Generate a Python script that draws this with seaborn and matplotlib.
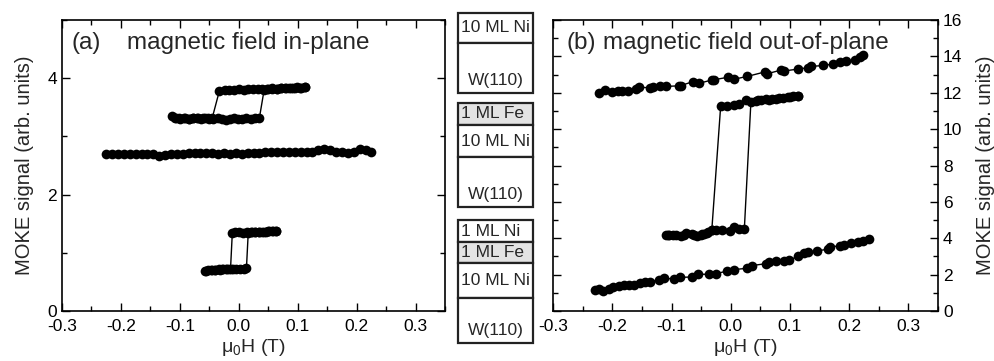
import matplotlib
matplotlib.use("Agg")
import matplotlib.pyplot as plt
from matplotlib.patches import Rectangle
from matplotlib.ticker import MultipleLocator, FormatStrFormatter
import seaborn as sns

# --- panel (a): field in-plane ---
# 10 ML Ni / W(110) loop, sweep up then sweep down
a_top_up_x = [-0.113, -0.106, -0.099, -0.092, -0.085, -0.078, -0.071, -0.064, -0.057, -0.050,
              -0.043, -0.036, -0.029, -0.022, -0.015, -0.008, -0.001, 0.006, 0.013, 0.020,
              0.027, 0.035, 0.043, 0.050, 0.057, 0.064, 0.071, 0.078, 0.085, 0.092,
              0.099, 0.106, 0.112]
a_top_up_y = [3.35, 3.31, 3.30, 3.31, 3.30, 3.31, 3.32, 3.30, 3.31, 3.30,
              3.30, 3.31, 3.30, 3.29, 3.30, 3.31, 3.30, 3.30, 3.31, 3.30,
              3.31, 3.32, 3.80, 3.82, 3.83, 3.82, 3.84, 3.83, 3.84, 3.84,
              3.85, 3.84, 3.85]
a_top_down_x = [0.112, 0.104, 0.096, 0.088, 0.080, 0.072, 0.064, 0.056, 0.048, 0.040,
                0.032, 0.024, 0.016, 0.008, 0.000, -0.008, -0.016, -0.024, -0.033,
                -0.045, -0.053, -0.061, -0.069, -0.077, -0.085, -0.093, -0.101, -0.109]
a_top_down_y = [3.85, 3.84, 3.84, 3.83, 3.83, 3.83, 3.82, 3.82, 3.82, 3.81,
                3.81, 3.82, 3.81, 3.80, 3.81, 3.80, 3.80, 3.79, 3.78,
                3.32, 3.31, 3.31, 3.32, 3.31, 3.30, 3.31, 3.31, 3.32]

# 1 ML Fe / 10 ML Ni: no loop
a_mid_x = [-0.225, -0.215, -0.205, -0.195, -0.185, -0.175, -0.165, -0.155, -0.145, -0.135,
           -0.125, -0.115, -0.105, -0.095, -0.085, -0.075, -0.065, -0.055, -0.045, -0.035,
           -0.025, -0.015, -0.005, 0.005, 0.015, 0.025, 0.035, 0.045, 0.055, 0.065,
           0.075, 0.085, 0.095, 0.105, 0.115, 0.125, 0.135, 0.145, 0.155, 0.165,
           0.175, 0.185, 0.195, 0.205, 0.215, 0.225]
a_mid_y = [2.70, 2.70, 2.69, 2.70, 2.70, 2.69, 2.69, 2.70, 2.69, 2.66,
           2.68, 2.69, 2.70, 2.70, 2.71, 2.71, 2.71, 2.72, 2.71, 2.70,
           2.71, 2.70, 2.71, 2.70, 2.71, 2.72, 2.72, 2.74, 2.74, 2.74,
           2.74, 2.73, 2.73, 2.74, 2.73, 2.74, 2.76, 2.79, 2.76, 2.73,
           2.74, 2.71, 2.74, 2.78, 2.76, 2.74]

# 1 ML Ni / 1 ML Fe / 10 ML Ni loop
a_bot_up_x = [-0.058, -0.052, -0.046, -0.040, -0.034, -0.028, -0.022, -0.016, -0.010, -0.004,
              0.002, 0.008, 0.013, 0.016, 0.022, 0.028, 0.034, 0.040, 0.046, 0.052,
              0.058, 0.063]
a_bot_up_y = [0.69, 0.70, 0.70, 0.71, 0.72, 0.72, 0.72, 0.72, 0.73, 0.72,
              0.72, 0.73, 0.74, 1.34, 1.35, 1.35, 1.36, 1.36, 1.36, 1.37,
              1.37, 1.38]
a_bot_down_x = [0.063, 0.056, 0.049, 0.042, 0.035, 0.028, 0.021, 0.014, 0.007, 0.000,
                -0.006, -0.011, -0.014, -0.020, -0.026, -0.032, -0.040, -0.048, -0.056]
a_bot_down_y = [1.38, 1.37, 1.37, 1.36, 1.36, 1.35, 1.35, 1.35, 1.34, 1.35,
                1.35, 1.34, 0.73, 0.72, 0.72, 0.71, 0.71, 0.70, 0.69]

# --- panel (b): field out-of-plane ---
b_top_x = [-0.222, -0.212, -0.200, -0.191, -0.183, -0.174, -0.160, -0.155, -0.136, -0.132,
           -0.119, -0.110, -0.088, -0.084, -0.063, -0.054, -0.032, -0.028, -0.005, 0.006,
           0.028, 0.058, 0.062, 0.085, 0.090, 0.113, 0.130, 0.136, 0.156, 0.173,
           0.184, 0.195, 0.209, 0.218, 0.223]
b_top_y = [11.98, 12.15, 12.02, 12.08, 12.08, 12.10, 12.22, 12.30, 12.28, 12.32,
           12.35, 12.35, 12.38, 12.40, 12.62, 12.52, 12.70, 12.72, 12.85, 12.75,
           12.90, 13.15, 13.05, 13.25, 13.20, 13.30, 13.38, 13.45, 13.50, 13.58,
           13.68, 13.72, 13.82, 13.95, 14.05]

b_mid_up_x = [-0.110, -0.104, -0.098, -0.084, -0.075, -0.066, -0.057, -0.051, -0.045, -0.039,
              -0.032, -0.025, -0.015, -0.001, 0.006, 0.014, 0.023, 0.034, 0.042, 0.051,
              0.059, 0.065, 0.076, 0.088, 0.096, 0.105, 0.113]
b_mid_up_y = [4.17, 4.18, 4.17, 4.15, 4.28, 4.22, 4.15, 4.20, 4.25, 4.35,
              4.44, 4.45, 4.45, 4.40, 4.60, 4.50, 4.53, 11.48, 11.55, 11.62,
              11.65, 11.62, 11.68, 11.72, 11.75, 11.80, 11.83]
b_mid_down_x = [0.113, 0.100, 0.082, 0.070, 0.046, 0.025, 0.014, 0.006, -0.006, -0.017,
                -0.032, -0.040, -0.048, -0.062, -0.079, -0.092, -0.106]
b_mid_down_y = [11.83, 11.78, 11.70, 11.66, 11.58, 11.60, 11.40, 11.35, 11.30, 11.27,
                4.44, 4.30, 4.22, 4.18, 4.20, 4.16, 4.17]

b_bot_x = [-0.229, -0.223, -0.216, -0.206, -0.198, -0.189, -0.180, -0.172, -0.164, -0.153,
           -0.144, -0.137, -0.121, -0.113, -0.096, -0.085, -0.065, -0.056, -0.037, -0.025,
           -0.006, 0.006, 0.028, 0.036, 0.059, 0.064, 0.076, 0.090, 0.099, 0.113,
           0.124, 0.130, 0.145, 0.164, 0.167, 0.184, 0.192, 0.203, 0.215, 0.223,
           0.233]
b_bot_y = [1.14, 1.20, 1.10, 1.20, 1.30, 1.35, 1.42, 1.42, 1.45, 1.55,
           1.60, 1.62, 1.70, 1.82, 1.75, 1.85, 1.87, 2.02, 2.02, 2.05,
           2.20, 2.28, 2.35, 2.50, 2.60, 2.70, 2.75, 2.75, 2.80, 3.00,
           3.20, 3.25, 3.30, 3.40, 3.50, 3.60, 3.65, 3.72, 3.80, 3.85,
           3.94]

# layer stacks shown between the panels (top layer first)
stack_1 = ["10 ML Ni", "W(110)"]
stack_2 = ["1 ML Fe", "10 ML Ni", "W(110)"]
stack_3 = ["1 ML Ni", "1 ML Fe", "10 ML Ni", "W(110)"]

sns.set_style("ticks")
plt.rcParams["font.family"] = ["Liberation Sans", "DejaVu Sans"]
plt.rcParams["mathtext.default"] = "regular"
plt.rcParams["axes.unicode_minus"] = False

fig = plt.figure(figsize=(9.95, 3.61), dpi=100)
ax1 = fig.add_axes([0.0623, 0.1385, 0.385, 0.806])
ax2 = fig.add_axes([0.5558, 0.1385, 0.387, 0.806])

line_kw = dict(sort=False, estimator=None, color="black", marker="o", markersize=7,
               markeredgewidth=0, linewidth=1)

for xs, ys in [(a_top_up_x, a_top_up_y), (a_top_down_x, a_top_down_y),
               (a_mid_x, a_mid_y),
               (a_bot_up_x, a_bot_up_y), (a_bot_down_x, a_bot_down_y)]:
    sns.lineplot(x=xs, y=ys, ax=ax1, **line_kw)

for xs, ys in [(b_top_x, b_top_y),
               (b_mid_up_x, b_mid_up_y), (b_mid_down_x, b_mid_down_y),
               (b_bot_x, b_bot_y)]:
    sns.lineplot(x=xs, y=ys, ax=ax2, **line_kw)

for ax in (ax1, ax2):
    ax.set_xlim(-0.3, 0.35)
    ax.xaxis.set_major_locator(MultipleLocator(0.1))
    ax.xaxis.set_minor_locator(MultipleLocator(0.05))
    ax.xaxis.set_major_formatter(FormatStrFormatter("%.1f"))
    ax.tick_params(which="both", direction="in", top=True, right=True, left=True,
                   labelsize=12.5, width=1, colors="black")
    ax.tick_params(which="major", length=6)
    ax.tick_params(which="minor", length=3.5)
    ax.tick_params(axis="x", which="major", pad=6)
    for s in ax.spines.values():
        s.set_linewidth(1.2)
        s.set_color("black")
    ax.set_xlabel("μ$_0$H (T)", fontsize=14, labelpad=2)

ax1.set_ylim(0, 5)
ax1.yaxis.set_major_locator(MultipleLocator(2))
ax1.yaxis.set_minor_locator(MultipleLocator(1))
ax1.set_ylabel("MOKE signal (arb. units)", fontsize=14.5, labelpad=10)

ax2.set_ylim(0, 16)
ax2.yaxis.set_major_locator(MultipleLocator(2))
ax2.yaxis.set_minor_locator(MultipleLocator(1))
ax2.tick_params(axis="y", which="both", labelleft=False, labelright=True)
ax2.yaxis.set_label_position("right")
ax2.set_ylabel("MOKE signal (arb. units)", fontsize=14.5, labelpad=10)

ax1.text(0.026, 0.92, "(a)", transform=ax1.transAxes, fontsize=17.5, va="center")
ax1.text(0.17, 0.92, "magnetic field in-plane", transform=ax1.transAxes,
         fontsize=17.5, va="center")
ax2.text(0.034, 0.92, "(b)", transform=ax2.transAxes, fontsize=17.5, va="center")
ax2.text(0.13, 0.92, "magnetic field out-of-plane", transform=ax2.transAxes,
         fontsize=17.5, va="center")

# schematic of the layer stacks, drawn in pixel coordinates
sk = fig.add_axes([0, 0, 1, 1], zorder=-1)
sk.set_xlim(0, 995)
sk.set_ylim(361, 0)
sk.axis("off")
box_left, box_right = 458, 533
# row boundaries (top edge of each layer, then stack bottom)
bounds = [[13, 43, 93], [103, 125, 157, 207], [220, 242, 263, 298, 343]]
for labels, edges in zip([stack_1, stack_2, stack_3], bounds):
    for lab, y0, y1 in zip(labels, edges[:-1], edges[1:]):
        fill = "#e3e3e3" if "Fe" in lab else "white"
        sk.add_patch(Rectangle((box_left, y0), box_right - box_left, y1 - y0,
                               facecolor=fill, edgecolor="#222222", linewidth=1.6))
        if lab.startswith("W"):
            sk.text((box_left + box_right) / 2, y1 - 13, lab, ha="center", va="center",
                    fontsize=12.5)
        else:
            sk.text(box_left + 3, (y0 + y1) / 2, lab, ha="left", va="center",
                    fontsize=12.5)

fig.savefig("out.png", dpi=100)
